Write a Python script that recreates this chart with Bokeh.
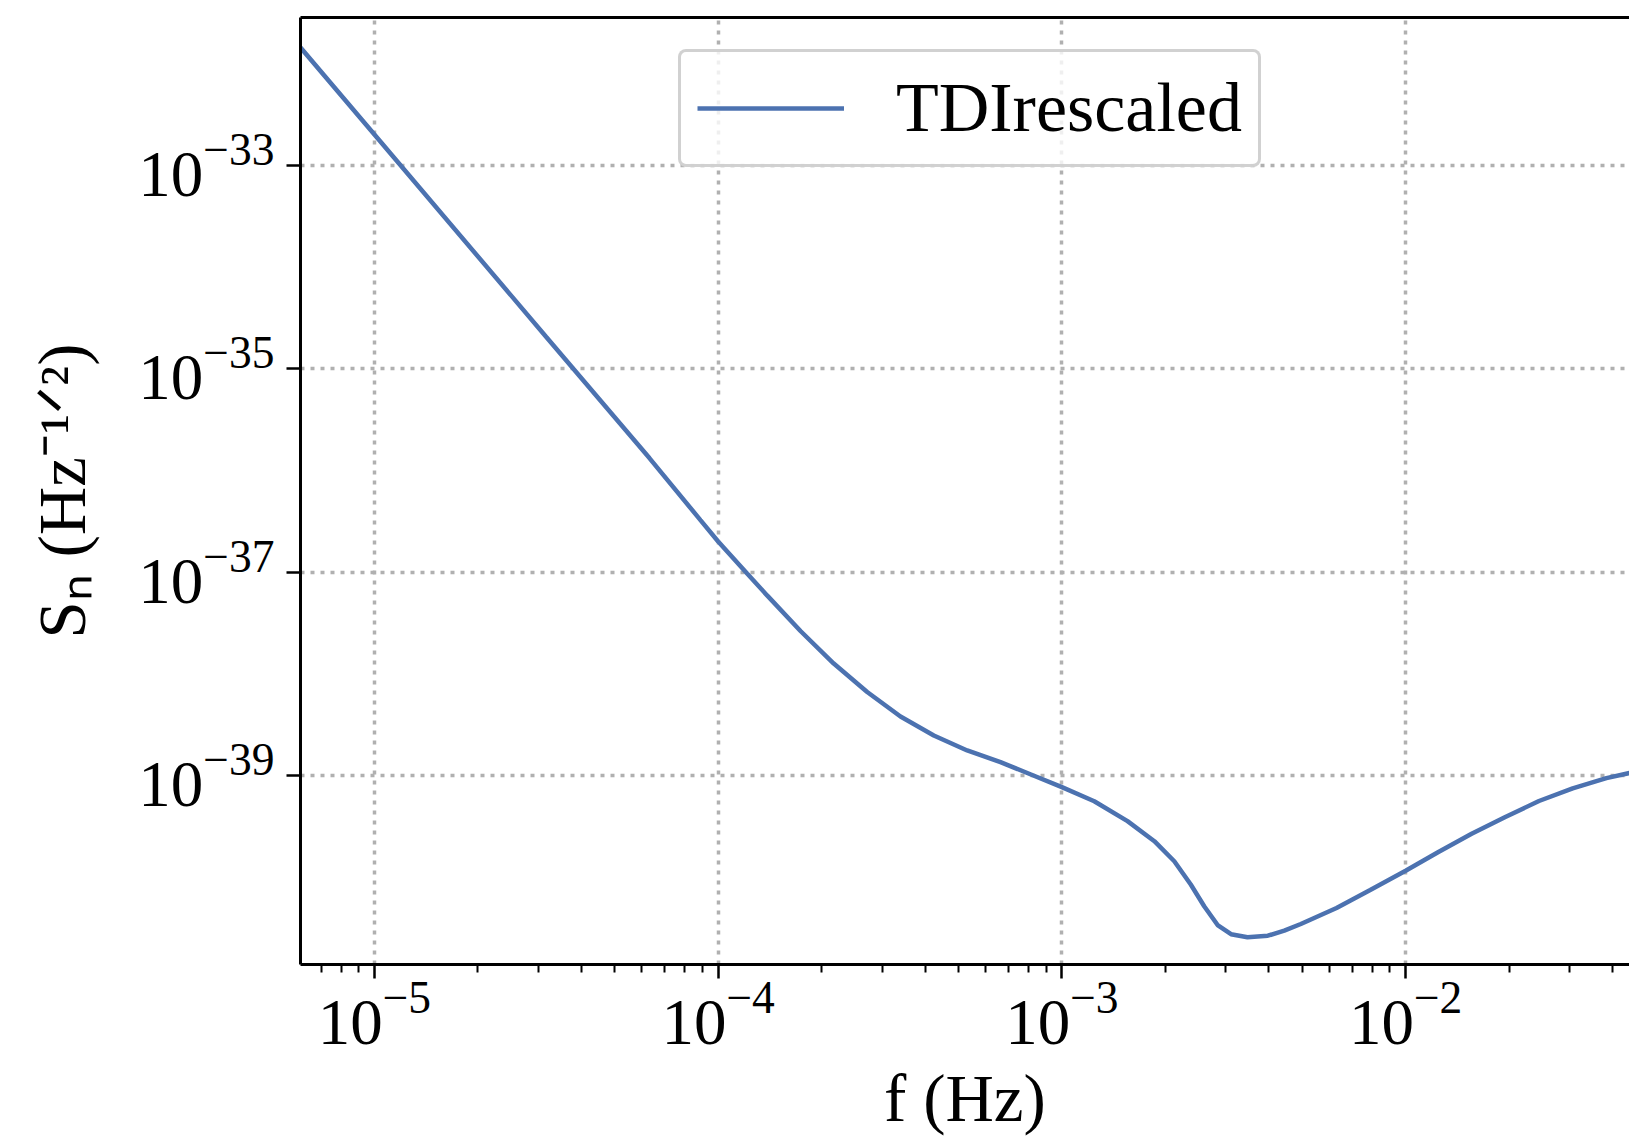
from bokeh.plotting import figure
from bokeh.models import FixedTicker, LogAxis, Range1d, Legend, LegendItem
from bokeh.embed import file_html
from bokeh.resources import INLINE

# ---- data ----
freq = [6.095e-6, 1.0e-5, 3.162e-5, 6.310e-5, 8.882e-5, 1.0e-4, 1.214e-4, 1.388e-4,
        1.736e-4, 2.169e-4, 2.714e-4, 3.392e-4, 4.240e-4, 5.303e-4, 6.629e-4, 8.128e-4,
        1.0e-3, 1.242e-3, 1.552e-3, 1.858e-3, 2.123e-3, 2.371e-3, 2.594e-3, 2.838e-3,
        3.105e-3, 3.467e-3, 3.972e-3, 4.436e-3, 4.955e-3, 6.295e-3, 7.889e-3, 1.0e-2,
        1.242e-2, 1.556e-2, 1.950e-2, 2.443e-2, 3.062e-2, 3.837e-2, 4.477e-2]
sn = [1.429e-32, 1.995e-33, 2.042e-35, 1.318e-36, 3.236e-37, 1.995e-37, 9.661e-38, 5.888e-38,
      2.630e-38, 1.259e-38, 6.607e-39, 3.802e-39, 2.472e-39, 1.762e-39, 1.352e-39, 1.023e-39,
      7.674e-40, 5.585e-40, 3.556e-40, 2.259e-40, 1.436e-40, 8.472e-41, 5.188e-41, 3.388e-41,
      2.754e-41, 2.570e-41, 2.661e-41, 2.985e-41, 3.467e-41, 4.989e-41, 7.482e-41, 1.156e-40,
      1.758e-40, 2.673e-40, 3.908e-40, 5.610e-40, 7.482e-40, 9.419e-40, 1.057e-39]
series_name = "TDIrescaled"

x_ticks = [1e-5, 1e-4, 1e-3, 1e-2]
y_ticks = [1e-39, 1e-37, 1e-35, 1e-33]
x_minor = [m * d for d in [1e-6, 1e-5, 1e-4, 1e-3, 1e-2] for m in range(2, 10)]
x_label = "f (Hz)"
y_label = "Sₙ (Hz⁻¹ᐟ²)"

x_lim = (6.095e-6, 4.48e-2)
y_lim = (1.387e-41, 2.82e-32)

FONT = "Liberation Serif"
LINE_COLOR = "#4C72B0"

p = figure(width=1629, height=1138, x_axis_type="log", y_axis_type="log",
           x_range=Range1d(*x_lim), y_range=Range1d(*y_lim),
           output_backend="svg", toolbar_location=None,
           min_border_left=300, min_border_right=0, min_border_top=17,
           min_border_bottom=174)
p.outline_line_color = None
p.background_fill_color = "white"
p.border_fill_color = "white"

r = p.line(freq, sn, line_color=LINE_COLOR, line_width=4.5)

# axes
xa = p.xaxis[0]
xa.ticker = FixedTicker(ticks=x_ticks, minor_ticks=x_minor)
xa.axis_label = x_label
ya = p.yaxis[0]
ya.ticker = FixedTicker(ticks=y_ticks, minor_ticks=[])
ya.axis_label = y_label

for ax in (xa, ya):
    ax.axis_line_width = 3
    ax.axis_line_color = "black"
    ax.major_tick_line_width = 2.5
    ax.minor_tick_line_width = 2
    ax.major_tick_out = 14
    ax.major_tick_in = 0
    ax.minor_tick_out = 8
    ax.minor_tick_in = 0
    ax.major_label_text_font = FONT
    ax.major_label_text_font_size = "65px"
    ax.major_label_text_color = "black"
    ax.axis_label_text_font = FONT
    ax.axis_label_text_font_size = "67px"
    ax.axis_label_text_font_style = "normal"
    ax.axis_label_text_color = "black"

xa.major_label_standoff = 4
xa.axis_label_standoff = 14
ya.major_label_standoff = 12
ya.axis_label_standoff = 36

top = LogAxis(ticker=FixedTicker(ticks=[], minor_ticks=[]), axis_line_width=3,
              axis_line_color="black", major_tick_line_color=None,
              minor_tick_line_color=None)
p.add_layout(top, "above")

# grid
for g, ticks in ((p.xgrid[0], x_ticks), (p.ygrid[0], y_ticks)):
    g.ticker = FixedTicker(ticks=ticks)
    g.grid_line_color = "#b0b0b0"
    g.grid_line_width = 3.5
    g.grid_line_dash = "4 6"

# legend
legend = Legend(items=[LegendItem(label=series_name, renderers=[r])],
                location=(378, 797), margin=0, padding=16,
                glyph_width=147, glyph_height=60, label_standoff=52,
                label_text_font=FONT, label_text_font_size="70px",
                label_text_color="black",
                border_line_color="#cccccc", border_line_width=3,
                border_line_alpha=0.9, background_fill_alpha=0.8)
if "border_radius" in Legend.properties():
    legend.border_radius = 8
p.add_layout(legend, "center")

open("out.html", "w").write(file_html(p, INLINE))
